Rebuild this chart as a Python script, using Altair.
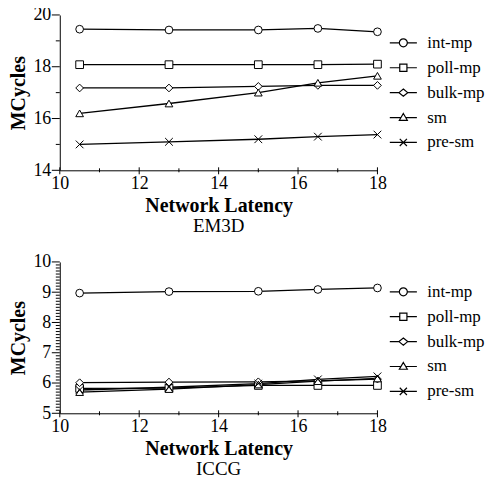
import altair as alt
import pandas as pd

latency = [10.5, 12.75, 15, 16.5, 18]
series = ["int-mp", "poll-mp", "bulk-mp", "sm", "pre-sm"]

em3d_int_mp = [19.45, 19.42, 19.42, 19.48, 19.35]
em3d_poll_mp = [18.08, 18.08, 18.08, 18.08, 18.1]
em3d_bulk_mp = [17.18, 17.18, 17.24, 17.28, 17.28]
em3d_sm = [16.2, 16.58, 17.0, 17.38, 17.65]
em3d_pre_sm = [15.0, 15.1, 15.2, 15.3, 15.38]

iccg_int_mp = [8.97, 9.02, 9.03, 9.09, 9.14]
iccg_poll_mp = [5.82, 5.83, 5.92, 5.92, 5.92]
iccg_bulk_mp = [6.01, 6.03, 6.04, 6.07, 6.13]
iccg_sm = [5.7, 5.8, 5.95, 6.06, 6.15]
iccg_pre_sm = [5.77, 5.86, 5.98, 6.12, 6.22]

x_major = [10, 12, 14, 16, 18]
x_minor = [11, 13, 15, 17]
em3d_y_major = [14, 16, 18, 20]
em3d_y_minor = [15, 17, 19]
iccg_y_major = [5, 6, 7, 8, 9, 10]
iccg_y_minor = [round(5 + i * 0.1, 1) for i in range(51) if i % 10 != 0]

FONT = "Liberation Serif"


def make_df(vals):
    rows = []
    for s, v in zip(series, vals):
        for x, y in zip(latency, v):
            rows.append({"latency": x, "value": y, "series": s})
    return pd.DataFrame(rows)


point_shapes = ["circle", "square", "diamond", "triangle-up", "M-1,-1L1,1M-1,1L1,-1"]
legend_shapes = [
    "M-1.7,0H-0.5M0.5,0H1.7M0.5,0A0.5 0.5 0 1 1 -0.5,0A0.5 0.5 0 1 1 0.5,0Z",
    "M-1.7,0H-0.45M0.45,0H1.7M-0.45,-0.45H0.45V0.45H-0.45Z",
    "M-1.7,0H-0.55M0.55,0H1.7M0,-0.45L0.55,0L0,0.45L-0.55,0Z",
    "M-1.7,0H-0.29M0.29,0H1.7M0,-0.5L0.5,0.35H-0.5Z",
    "M-1.7,0H1.7M-0.45,-0.45L0.45,0.45M-0.45,0.45L0.45,-0.45",
]


def panel(df, ydom, ymajor, yminor, name, h, leg_y):
    xscale = alt.Scale(domain=[10, 18], nice=False, zero=False)
    yscale = alt.Scale(domain=ydom, nice=False, zero=False)
    x_axis = alt.Axis(
        values=x_major, title="Network Latency", orient="bottom", grid=False,
        ticks=False, tickSize=0, labelPadding=4, labelFlush=False, labelOverlap=False,
        titlePadding=3, format="d")
    y_axis = alt.Axis(
        values=ymajor, title="MCycles", orient="left", grid=False,
        ticks=False, tickSize=0, labelPadding=9, labelOverlap=False,
        titlePadding=4, format="d")
    base = alt.Chart(df).encode(
        x=alt.X("latency:Q", scale=xscale, axis=x_axis),
        y=alt.Y("value:Q", scale=yscale, axis=y_axis),
    )
    lines = base.mark_line(color="black", strokeWidth=1.3).encode(detail="series:N")
    pts = base.mark_point(
        filled=True, fill="white", stroke="black", strokeWidth=1, size=60, opacity=1
    ).encode(
        shape=alt.Shape("series:N", scale=alt.Scale(domain=series, range=point_shapes), legend=None)
    )

    def xt(vals, y1, y2):
        return alt.Chart(pd.DataFrame({"latency": vals})).mark_rule(
            color="black", strokeWidth=1).encode(
            x=alt.X("latency:Q", scale=xscale, axis=x_axis),
            y=alt.value(y1), y2=alt.value(y2))

    def yt(vals, x1):
        return alt.Chart(pd.DataFrame({"value": vals})).mark_rule(
            color="black", strokeWidth=1).encode(
            y=alt.Y("value:Q", scale=yscale, axis=y_axis),
            x=alt.value(x1), x2=alt.value(0))

    ticks = [
        xt(x_major, h - 3, h + 4),
        xt(x_minor, h - 2, h + 2),
        yt(ymajor, -8),
        yt(yminor, -4),
    ]
    leg = alt.Chart(df).transform_filter("false").mark_point(
        filled=False, color="black", strokeWidth=1.2, opacity=1
    ).encode(
        x=alt.X("latency:Q", scale=xscale, axis=x_axis),
        y=alt.Y("value:Q", scale=yscale, axis=y_axis),
        shape=alt.Shape(
            "series:N",
            scale=alt.Scale(domain=series, range=legend_shapes),
            legend=alt.Legend(
                title=None,
                orient="none",
                legendX=336,
                legendY=leg_y,
                padding=0,
                symbolSize=256,
                symbolStrokeWidth=1.2,
                symbolStrokeColor="black",
                symbolFillColor="white",
                symbolOpacity=1,
                labelFont=FONT,
                labelFontSize=17,
                labelColor="black",
                labelOffset=15,
                rowPadding=8,
            ),
        ),
    )
    return (
        alt.layer(lines, pts, *ticks, leg)
        .resolve_scale(shape="independent")
        .properties(
            width=319,
            height=h,
            title=alt.TitleParams(name, orient="bottom", font=FONT, fontSize=19,
                                  fontWeight="normal", color="black", offset=2),
        )
    )


top = panel(
    make_df([em3d_int_mp, em3d_poll_mp, em3d_bulk_mp, em3d_sm, em3d_pre_sm]),
    [14, 20], em3d_y_major, em3d_y_minor, "EM3D", 156, 19,
)
bottom = panel(
    make_df([iccg_int_mp, iccg_poll_mp, iccg_bulk_mp, iccg_sm, iccg_pre_sm]),
    [5, 10], iccg_y_major, iccg_y_minor, "ICCG", 152, 21,
)

chart = (
    alt.vconcat(top, bottom, spacing=17)
    .resolve_scale(shape="independent")
    .resolve_legend(shape="independent")
    .properties(padding={"left": 1, "top": -3, "right": 0, "bottom": 0})
    .configure_view(stroke=None)
    .configure_axis(
        labelFont=FONT,
        labelFontSize=18,
        labelColor="black",
        labelOverlap=False,
        titleFont=FONT,
        titleFontSize=20,
        titleFontWeight="bold",
        titleColor="black",
        domainColor="black",
        domainWidth=1,
    )
)

chart.save("out.html", embed_options={"renderer": "svg", "actions": False})
